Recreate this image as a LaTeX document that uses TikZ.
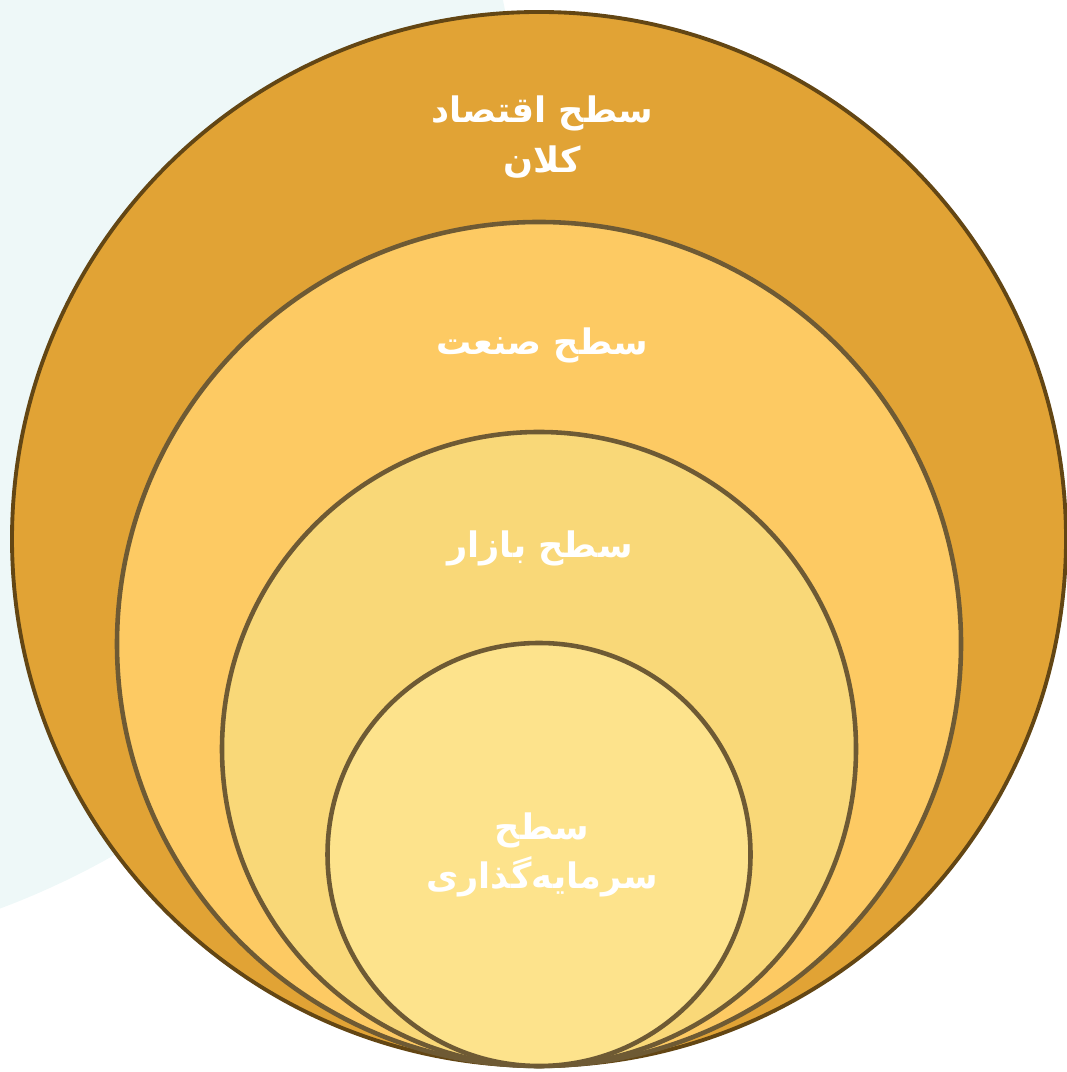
\documentclass[tikz,border=0pt]{standalone}
\usepackage{fontspec}
\newfontfamily\arabicfont[Script=Arabic]{DejaVu Sans}
\TeXXeTstate=1
\definecolor{bgblob}{RGB}{238,248,248}
\definecolor{ringA}{RGB}{225,163,53}
\definecolor{ringB}{RGB}{253,202,99}
\definecolor{ringC}{RGB}{249,216,120}
\definecolor{ringD}{RGB}{253,227,140}
\definecolor{edgeA}{RGB}{99,70,20}
\definecolor{edgeB}{RGB}{110,90,52}
\tikzset{
  ring/.style={circle, inner sep=0pt, line width=1.3pt, draw=edgeB},
  lbl/.style={text=white, font=\arabicfont\bfseries\fontsize{10}{14}\selectfont, align=center, inner sep=0pt}
}
\begin{document}
\begin{tikzpicture}
\useasboundingbox (0,0) rectangle (10.66,10.72);
\begin{scope}
\clip (0,0) rectangle (10.66,10.72);
\fill[bgblob] (-2.80,9.12) circle (7.99);
\end{scope}
\node[ring, fill=ringA, draw=edgeA, line width=1.1pt, minimum size=10.54cm] (c1) at (5.39,5.33) {};
\node[ring, fill=ringB, minimum size=8.44cm] (c2) at (5.39,4.28) {};
\node[ring, fill=ringC, minimum size=6.34cm] (c3) at (5.39,3.23) {};
\node[ring, fill=ringD, minimum size=4.23cm] (c4) at (5.39,2.175) {};
\node[lbl] (t1) at (5.42,9.35) {\beginR سطح اقتصاد\endR\\\beginR کلان\endR};
\node[lbl] (t2) at (5.42,7.27) {\beginR سطح صنعت\endR};
\node[lbl] (t3) at (5.40,5.24) {\beginR سطح بازار\endR};
\node[lbl] (t4) at (5.42,2.17) {\beginR سطح\endR\\\beginR سرمایه‌گذاری\endR};
\end{tikzpicture}
\end{document}
